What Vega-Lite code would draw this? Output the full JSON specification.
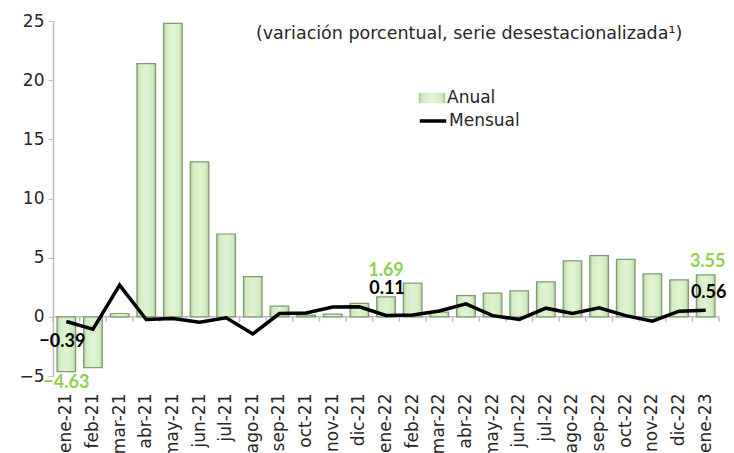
{
  "$schema": "https://vega.github.io/schema/vega-lite/v6.json",
  "width": 666,
  "height": 355,
  "autosize": {"type": "none"},
  "padding": {"left": 53, "top": 21, "right": 15, "bottom": 77},
  "background": "white",
  "title": {
    "text": "(variación porcentual, serie desestacionalizada¹)",
    "anchor": "start",
    "dx": 237,
    "offset": -30,
    "font": "DejaVu Sans",
    "fontSize": 17.5,
    "fontWeight": "normal",
    "color": "#262626"
  },
  "config": {
    "view": {"stroke": null},
    "axis": {
      "domainColor": "#bfbfbf",
      "tickColor": "#bfbfbf",
      "labelFont": "DejaVu Sans",
      "labelFontSize": 17,
      "labelColor": "#262626",
      "grid": false,
      "title": null
    }
  },
  "data": {
    "values": [
      {"mes": "ene-21", "anual": -4.63, "mensual": -0.39},
      {"mes": "feb-21", "anual": -4.3, "mensual": -1.05},
      {"mes": "mar-21", "anual": 0.28, "mensual": 2.68},
      {"mes": "abr-21", "anual": 21.4, "mensual": -0.23},
      {"mes": "may-21", "anual": 24.8, "mensual": -0.14},
      {"mes": "jun-21", "anual": 13.1, "mensual": -0.45},
      {"mes": "jul-21", "anual": 7.0, "mensual": -0.08},
      {"mes": "ago-21", "anual": 3.4, "mensual": -1.45},
      {"mes": "sep-21", "anual": 0.9, "mensual": 0.28},
      {"mes": "oct-21", "anual": 0.15, "mensual": 0.33},
      {"mes": "nov-21", "anual": 0.23, "mensual": 0.83},
      {"mes": "dic-21", "anual": 1.13, "mensual": 0.85},
      {"mes": "ene-22", "anual": 1.69, "mensual": 0.11},
      {"mes": "feb-22", "anual": 2.85, "mensual": 0.15},
      {"mes": "mar-22", "anual": 0.4, "mensual": 0.5},
      {"mes": "abr-22", "anual": 1.8, "mensual": 1.1},
      {"mes": "may-22", "anual": 2.0, "mensual": 0.1},
      {"mes": "jun-22", "anual": 2.2, "mensual": -0.22},
      {"mes": "jul-22", "anual": 2.95, "mensual": 0.73},
      {"mes": "ago-22", "anual": 4.73, "mensual": 0.28},
      {"mes": "sep-22", "anual": 5.18, "mensual": 0.76},
      {"mes": "oct-22", "anual": 4.85, "mensual": 0.1},
      {"mes": "nov-22", "anual": 3.63, "mensual": -0.37},
      {"mes": "dic-22", "anual": 3.13, "mensual": 0.48},
      {"mes": "ene-23", "anual": 3.55, "mensual": 0.56}
    ]
  },
  "layer": [
    {
      "data": {"values": [{}]},
      "mark": {"type": "rule", "color": "#bfbfbf", "strokeWidth": 1.5},
      "encoding": {"y": {"datum": 0, "type": "quantitative"}}
    },
    {
      "mark": {"type": "rule", "color": "#bfbfbf", "strokeWidth": 1.5},
      "encoding": {
        "x": {"field": "mes", "type": "nominal", "sort": null, "bandPosition": 0},
        "y": {"datum": 0, "type": "quantitative"},
        "y2": {"datum": -0.42}
      }
    },
    {
      "transform": [{"filter": "datum.mes == 'ene-23'"}],
      "mark": {"type": "rule", "color": "#bfbfbf", "strokeWidth": 1.5},
      "encoding": {
        "x": {"field": "mes", "type": "nominal", "sort": null, "bandPosition": 1},
        "y": {"datum": 0, "type": "quantitative"},
        "y2": {"datum": -0.42}
      }
    },
    {
      "mark": {
        "type": "bar",
        "width": {"band": 0.7},
        "stroke": "#7f9a72",
        "strokeWidth": 1.2,
        "fill": {
          "gradient": "linear",
          "x1": 0, "y1": 0, "x2": 1, "y2": 0,
          "stops": [
            {"offset": 0, "color": "#a9c797"},
            {"offset": 0.15, "color": "#d3ecc1"},
            {"offset": 0.5, "color": "#e0f4d3"},
            {"offset": 0.85, "color": "#d3ecc1"},
            {"offset": 1, "color": "#a9c797"}
          ]
        }
      },
      "encoding": {
        "x": {
          "field": "mes",
          "type": "nominal",
          "sort": null,
          "scale": {"paddingInner": 0, "paddingOuter": 0},
          "axis": {
            "orient": "bottom",
            "domain": false,
            "ticks": false,
            "labelAngle": -90,
            "labelPadding": 17,
            "labelOverlap": false
          }
        },
        "y": {
          "field": "anual",
          "type": "quantitative",
          "scale": {"domain": [-5, 25], "nice": false, "zero": false},
          "axis": {
            "values": [-5, 0, 5, 10, 15, 20, 25],
            "tickSize": 5,
            "labelPadding": 4,
            "domainWidth": 1.5
          }
        },
        "opacity": {
          "datum": "Anual",
          "type": "nominal",
          "scale": {"range": [1]},
          "legend": {
            "orient": "none",
            "legendX": 365,
            "legendY": 63,
            "title": null,
            "symbolType": "M-1,-0.4H1V0.4H-1Z",
            "symbolSize": 700,
            "symbolFillColor": "#cfe9bc",
            "symbolStrokeColor": "#7f9a72",
            "symbolStrokeWidth": 1,
            "labelFont": "DejaVu Sans",
            "labelFontSize": 17,
            "labelColor": "#262626",
            "labelOffset": 1,
            "padding": 0,
            "encode": {"symbols": {"update": {"fill": {"value": "#cfe9bc"}, "stroke": {"value": "#7f9a72"}, "opacity": {"value": 1}}}}
          }
        }
      }
    },
    {
      "mark": {"type": "line", "strokeWidth": 3.5},
      "encoding": {
        "x": {"field": "mes", "type": "nominal", "sort": null},
        "y": {"field": "mensual", "type": "quantitative"},
        "stroke": {
          "datum": "Mensual",
          "type": "nominal",
          "scale": {"range": ["#000000"]},
          "legend": {
            "orient": "none",
            "legendX": 365,
            "legendY": 85,
            "title": null,
            "symbolType": "stroke",
            "symbolSize": 700,
            "symbolStrokeWidth": 3.5,
            "labelFont": "DejaVu Sans",
            "labelFontSize": 17,
            "labelColor": "#262626",
            "labelOffset": 1,
            "padding": 0
          }
        }
      }
    },
    {
      "transform": [{"filter": "datum.mes == 'ene-21'"}],
      "mark": {"type": "text", "font": "Lato", "fontWeight": "bold", "fontSize": 18, "color": "#92d050", "baseline": "middle", "dy": 11},
      "encoding": {
        "x": {"field": "mes", "type": "nominal", "sort": null},
        "y": {"field": "anual", "type": "quantitative"},
        "text": {"field": "anual", "type": "quantitative", "format": ".2f"}
      }
    },
    {
      "transform": [{"filter": "datum.mes == 'ene-22'"}],
      "mark": {"type": "text", "font": "Lato", "fontWeight": "bold", "fontSize": 18, "color": "#92d050", "baseline": "middle", "dy": -26},
      "encoding": {
        "x": {"field": "mes", "type": "nominal", "sort": null},
        "y": {"field": "anual", "type": "quantitative"},
        "text": {"field": "anual", "type": "quantitative", "format": ".2f"}
      }
    },
    {
      "transform": [{"filter": "datum.mes == 'ene-23'"}],
      "mark": {"type": "text", "font": "Lato", "fontWeight": "bold", "fontSize": 18, "color": "#92d050", "baseline": "middle", "dy": -13, "dx": 2},
      "encoding": {
        "x": {"field": "mes", "type": "nominal", "sort": null},
        "y": {"field": "anual", "type": "quantitative"},
        "text": {"field": "anual", "type": "quantitative", "format": ".2f"}
      }
    },
    {
      "transform": [{"filter": "datum.mes == 'ene-21'"}],
      "mark": {"type": "text", "font": "Lato", "fontWeight": "bold", "fontSize": 18, "color": "#000000", "baseline": "middle", "dy": 21, "dx": -4},
      "encoding": {
        "x": {"field": "mes", "type": "nominal", "sort": null},
        "y": {"field": "mensual", "type": "quantitative"},
        "text": {"field": "mensual", "type": "quantitative", "format": ".2f"}
      }
    },
    {
      "transform": [{"filter": "datum.mes == 'ene-22'"}],
      "mark": {"type": "text", "font": "Lato", "fontWeight": "bold", "fontSize": 18, "color": "#000000", "baseline": "middle", "dy": -27, "dx": 1},
      "encoding": {
        "x": {"field": "mes", "type": "nominal", "sort": null},
        "y": {"field": "mensual", "type": "quantitative"},
        "text": {"field": "mensual", "type": "quantitative", "format": ".2f"}
      }
    },
    {
      "transform": [{"filter": "datum.mes == 'ene-23'"}],
      "mark": {"type": "text", "font": "Lato", "fontWeight": "bold", "fontSize": 18, "color": "#000000", "baseline": "middle", "dy": -17, "dx": 3},
      "encoding": {
        "x": {"field": "mes", "type": "nominal", "sort": null},
        "y": {"field": "mensual", "type": "quantitative"},
        "text": {"field": "mensual", "type": "quantitative", "format": ".2f"}
      }
    }
  ]
}
